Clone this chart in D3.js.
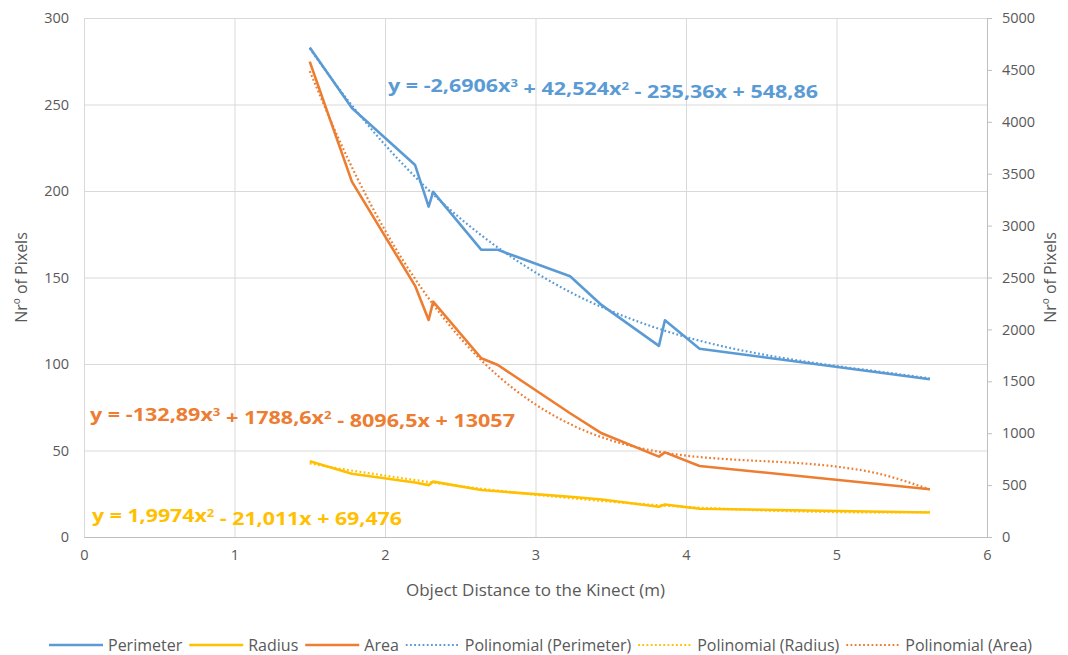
<!DOCTYPE html>
<html>
<head>
<meta charset="utf-8">
<script src="https://cdn.jsdelivr.net/npm/d3@7"></script>
<style>
  body { margin: 0; background: #fff; }
  text { font-family: "Open Sans", Lato, sans-serif; }
</style>
</head>
<body>
<div id="chart"></div>
<script>
// distances (m) where the object was measured
var distance = [1.5, 1.78, 2.2, 2.29, 2.32, 2.64, 2.75, 3.23, 3.44, 3.82, 3.86, 4.09, 5.62];
var perimeter = [283, 248, 215, 191, 199.5, 166, 166, 150.7, 134, 110.5, 125.3, 108.8, 91.2];
var radius = [43.8, 36.6, 31.5, 30.0, 32.0, 27.2, 26.4, 23.3, 21.7, 17.5, 18.8, 16.3, 14.2];
var area = [4580, 3423, 2420, 2091, 2267, 1722, 1657, 1192, 999, 774, 815, 684, 460];

// trendline values
var trendX = [1.5, 1.75, 2, 2.25, 2.5, 2.75, 3, 3.25, 3.5, 3.75, 4, 4.25, 4.5, 4.75, 5, 5.25, 5.62];
var perimeterTrend = [282.4, 252.8, 226.7, 203.9, 184.2, 167.3, 152.9, 140.7, 130.7, 122.4, 115.6, 110.1, 105.7, 102.0, 98.8, 96.0, 91.7];
var radiusTrend = [42.5, 38.8, 35.5, 32.3, 29.4, 26.8, 24.4, 22.3, 20.4, 18.8, 17.4, 16.3, 15.4, 14.8, 14.4, 14.2, 14.5];
var areaTrend = [4488, 3654, 2955, 2381, 1918, 1554, 1277, 1074, 932, 840, 784, 752, 732, 712, 678, 620, 458];

var xTicks = [0, 1, 2, 3, 4, 5, 6];
var leftTicks = [0, 50, 100, 150, 200, 250, 300];
var rightTicks = [0, 500, 1000, 1500, 2000, 2500, 3000, 3500, 4000, 4500, 5000];

var seriesNames = ["Perimeter", "Radius", "Area", "Polinomial (Perimeter)", "Polinomial (Radius)", "Polinomial (Area)"];

var svgWidth = 1068;
var svgHeight = 655;
var margin = { top: 18, right: 81, bottom: 118, left: 84 };
var width = svgWidth - margin.left - margin.right;
var height = svgHeight - margin.top - margin.bottom;

var blue = "#5B9BD5", gold = "#FFC000", orange = "#ED7D31";
var textGray = "#595959", gridGray = "#d9d9d9";

var svg = d3.select("#chart").append("svg")
    .attr("width", svgWidth)
    .attr("height", svgHeight);

svg.append("rect").attr("width", svgWidth).attr("height", svgHeight).attr("fill", "#fff");

var g = svg.append("g")
    .attr("transform", `translate(${margin.left}, ${margin.top})`);

// scales
var x = d3.scaleLinear().domain([0, 6]).range([0, width]);
var yLeft = d3.scaleLinear().domain([0, 300]).range([height, 0]);
var yRight = d3.scaleLinear().domain([0, 5000]).range([height, 0]);

// gridlines
g.append("g")
    .call(d3.axisLeft(yLeft).tickValues(leftTicks).tickSize(-width).tickFormat(""))
    .call(s => s.select(".domain").remove())
    .selectAll("line").attr("stroke", gridGray);
g.append("g")
    .attr("transform", `translate(0, ${height})`)
    .call(d3.axisBottom(x).tickValues(xTicks).tickSize(-height).tickFormat(""))
    .call(s => s.select(".domain").remove())
    .selectAll("line").attr("stroke", gridGray);

// axes
var fmt = d3.format("d");
var bottomAxis = g.append("g")
    .attr("transform", `translate(0, ${height})`)
    .call(d3.axisBottom(x).tickValues(xTicks).tickFormat(fmt).tickSize(0).tickPadding(13));
var leftAxis = g.append("g")
    .call(d3.axisLeft(yLeft).tickValues(leftTicks).tickFormat(fmt).tickSize(0).tickPadding(15));
var rightAxis = g.append("g")
    .attr("transform", `translate(${width}, 0)`)
    .call(d3.axisRight(yRight).tickValues(rightTicks).tickFormat(fmt).tickSize(5).tickPadding(10));

[bottomAxis, leftAxis, rightAxis].forEach(function(a) {
    a.select(".domain").attr("stroke", "#bfbfbf");
    a.selectAll("line").attr("stroke", "#bfbfbf");
    a.selectAll("text")
        .attr("fill", textGray)
        .style("font-size", "14.5px")
        .style("font-family", "'Open Sans', sans-serif");
});
leftAxis.select(".domain").remove();

// axis titles
svg.append("text")
    .attr("x", margin.left + width / 2)
    .attr("y", 596)
    .attr("text-anchor", "middle")
    .attr("fill", textGray)
    .style("font-size", "17px")
    .text("Object Distance to the Kinect (m)");
svg.append("text")
    .attr("transform", `translate(27, ${margin.top + height / 2}) rotate(-90)`)
    .attr("text-anchor", "middle")
    .attr("fill", textGray)
    .style("font-size", "16px")
    .text("Nrº of Pixels");
svg.append("text")
    .attr("transform", `translate(1056, ${margin.top + height / 2}) rotate(-90)`)
    .attr("text-anchor", "middle")
    .attr("fill", textGray)
    .style("font-size", "16px")
    .text("Nrº of Pixels");

// line generators
function lineFor(yScale, curve) {
    return d3.line()
        .x(d => x(d[0]))
        .y(d => yScale(d[1]))
        .curve(curve || d3.curveLinear);
}
function pairs(xs, ys) { return xs.map((v, i) => [v, ys[i]]); }

var series = [
    { vals: pairs(distance, perimeter), scale: yLeft, color: blue },
    { vals: pairs(distance, radius), scale: yLeft, color: gold },
    { vals: pairs(distance, area), scale: yRight, color: orange }
];
var trends = [
    { vals: pairs(trendX, perimeterTrend), scale: yLeft, color: blue },
    { vals: pairs(trendX, radiusTrend), scale: yLeft, color: gold },
    { vals: pairs(trendX, areaTrend), scale: yRight, color: orange }
];

series.forEach(function(s) {
    g.append("path")
        .datum(s.vals)
        .attr("fill", "none")
        .attr("stroke", s.color)
        .attr("stroke-width", 2.6)
        .attr("stroke-linejoin", "round")
        .attr("d", lineFor(s.scale));
});
trends.forEach(function(s) {
    g.append("path")
        .datum(s.vals)
        .attr("fill", "none")
        .attr("stroke", s.color)
        .attr("stroke-width", 2.2)
        .attr("stroke-dasharray", "1.8,2.4")
        .attr("d", lineFor(s.scale, d3.curveMonotoneX));
});

// trendline equations
var equations = [
    { parts: ["y = -2,6906x", "3", " + 42,524x", "2", " - 235,36x + 548,86"], x: 388, y: 92, w: 430, color: blue },
    { parts: ["y = -132,89x", "3", " + 1788,6x", "2", " - 8096,5x + 13057"], x: 90, y: 421, w: 425, color: orange },
    { parts: ["y = 1,9974x", "2", " - 21,011x + 69,476"], x: 92, y: 522, w: 310, color: gold }
];
equations.forEach(function(eq) {
    var t = svg.append("text")
        .attr("x", eq.x)
        .attr("y", eq.y)
        .attr("fill", eq.color)
        .style("font-size", "18px")
        .style("font-weight", "bold");
    eq.parts.forEach(function(p, i) {
        var sup = i % 2 === 1;
        t.append("tspan")
            .attr("dy", sup ? "-0.45em" : (i > 0 ? "0.45em" : 0))
            .style("font-size", sup ? "11px" : "18px")
            .text(p);
    });
    // stretch to the width seen in the picture
    var len = t.node().getComputedTextLength();
    if (Math.abs(len - eq.w) > 3) t.attr("textLength", eq.w).attr("lengthAdjust", "spacingAndGlyphs");
});

// legend, laid out left to right and centred
var legendColors = [blue, gold, orange, blue, gold, orange];
var legend = svg.append("g");
var cursor = 0;
seriesNames.forEach(function(name, i) {
    var item = legend.append("g").attr("transform", `translate(${cursor}, 0)`);
    item.append("line")
        .attr("x1", 0).attr("x2", 54)
        .attr("y1", 0).attr("y2", 0)
        .attr("stroke", legendColors[i])
        .attr("stroke-width", i < 3 ? 2.6 : 2)
        .attr("stroke-dasharray", i < 3 ? null : "1.8,2.4");
    var label = item.append("text")
        .attr("x", 59)
        .attr("y", 5.5)
        .attr("fill", textGray)
        .style("font-size", "16px")
        .text(name);
    cursor += 59 + label.node().getComputedTextLength() + 7;
});
legend.attr("transform", `translate(${544 - cursor / 2}, 645)`);
</script>
</body>
</html>
